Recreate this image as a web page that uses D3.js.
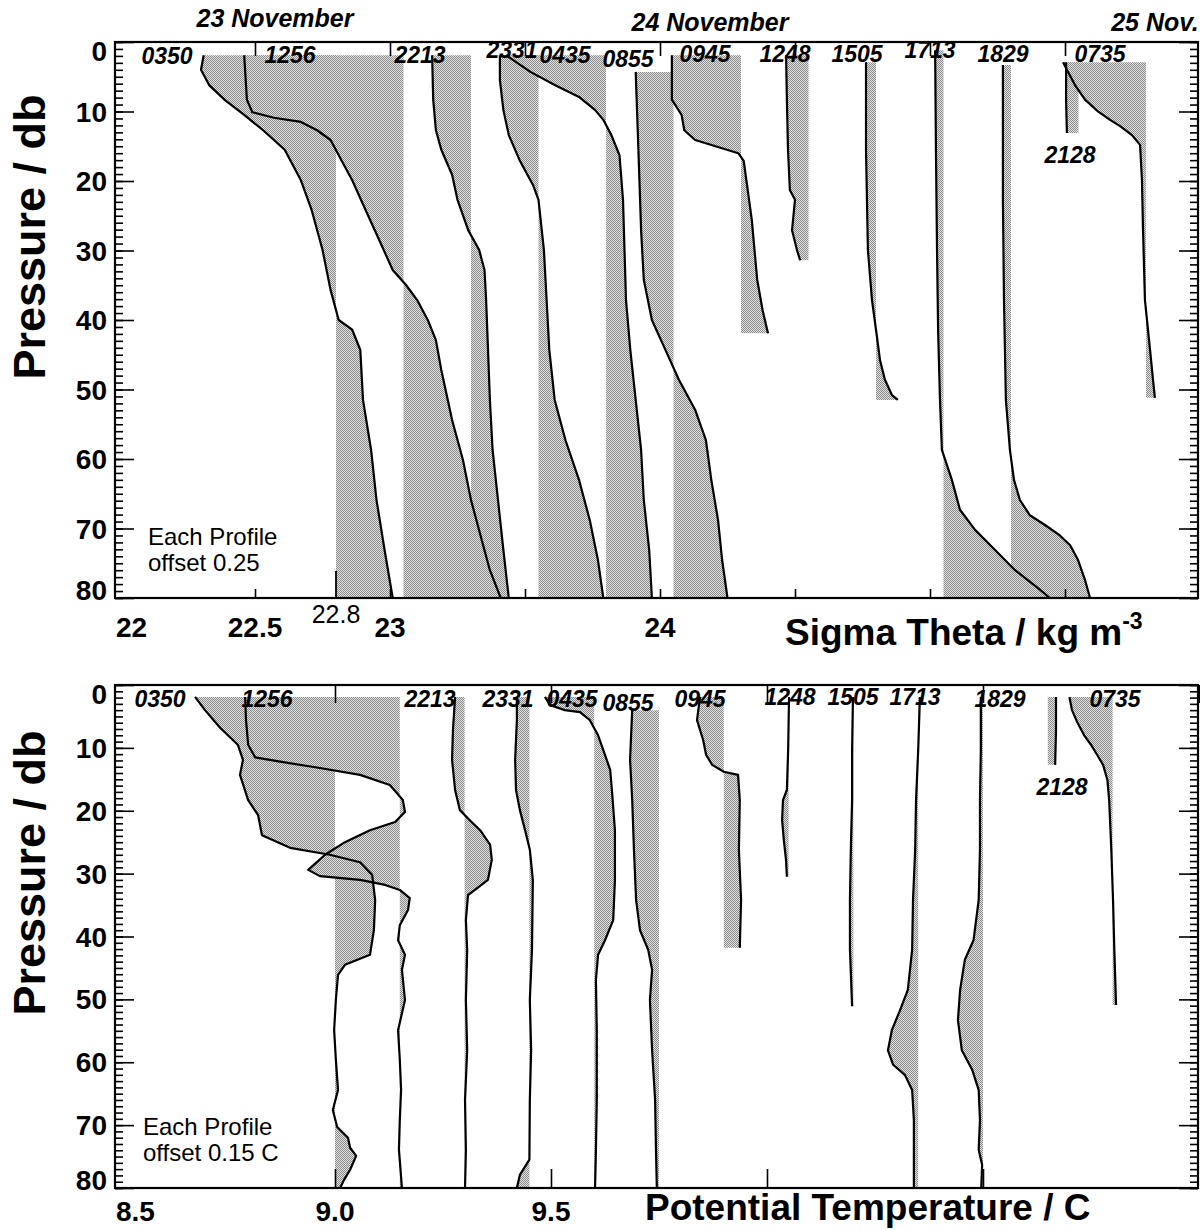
<!DOCTYPE html>
<html>
<head>
<meta charset="utf-8">
<script src="https://cdn.jsdelivr.net/npm/d3@7"></script>
<style>
body { margin: 0; background: #fff; }
text { font-family: "Liberation Sans", Arial, Helvetica, sans-serif; }
</style>
</head>
<body>
<div id="chart-area"></div>
<script>
var width = 1200,
	height = 1230;

// cast times, in the order of the offsets
var castTimes = ["0350", "1256", "2213", "2331", "0435", "0855", "0945", "1248", "1505", "1713", "1829", "2128", "0735"];

var sigmaBase = 22.8, sigmaStep = 0.25;
var thetaBase = 9.0, thetaStep = 0.15;

var pressureTicks = [0, 10, 20, 30, 40, 50, 60, 70, 80];
var sigmaTickLabels = [22, 22.5, 23, 24];
var thetaTickLabels = [8.5, 9.0, 9.5];
var dayLabels = ["23 November", "24 November", "25 Nov."];

// [pressure db, sigma theta] for each cast (before the offset)
var sigmaCasts = [
	[[1.9,22.31],[4,22.30],[6.2,22.33],[8.4,22.39],[10.5,22.46],[12.7,22.53],[15.5,22.61],[19.9,22.67],[24.2,22.71],[29.9,22.75],[35.7,22.78],[40,22.81],[41.4,22.86],[44.3,22.89],[51.5,22.90],[58.7,22.93],[65.9,22.95],[73.1,22.98],[80,23.01]],
	[[1.9,22.21],[8.3,22.22],[10.1,22.24],[10.9,22.32],[11.5,22.42],[12.7,22.48],[14.1,22.53],[17,22.57],[19.9,22.61],[24.2,22.66],[28.5,22.71],[32.8,22.76],[35,22.81],[37.1,22.85],[40,22.89],[42.9,22.92],[47.2,22.94],[54.4,22.98],[60.1,23.02],[65.9,23.05],[71.7,23.09],[76,23.12],[80,23.16]],
	[[1.9,22.656],[8.3,22.66],[12.7,22.67],[15.5,22.69],[19.1,22.73],[22.7,22.75],[27.1,22.79],[29.9,22.83],[32.8,22.85],[37.1,22.856],[44.3,22.863],[51.5,22.87],[58.7,22.88],[65.9,22.90],[73.1,22.92],[80,22.94]],
	[[1.9,22.657],[5.5,22.657],[9.8,22.67],[13.4,22.69],[17,22.73],[20.6,22.78],[22.7,22.80],[29.9,22.82],[37.1,22.83],[44.3,22.84],[51.5,22.86],[57.3,22.90],[63,22.95],[68.8,22.99],[74.5,23.02],[80,23.04]],
	[[1.9,22.43],[4.3,22.52],[6.2,22.61],[7.9,22.70],[9.8,22.76],[11.2,22.79],[13.4,22.82],[16.3,22.85],[22.7,22.863],[37.1,22.874],[44.3,22.89],[51.5,22.91],[58.7,22.93],[65.9,22.94],[73.1,22.96],[80,22.97]],
	[[4.3,22.66],[15.5,22.67],[27.1,22.68],[34.2,22.69],[40,22.72],[44.3,22.77],[48.6,22.82],[52.9,22.88],[57.3,22.92],[63,22.94],[68.8,22.965],[74.5,22.98],[80,23.0]],
	[[1.9,22.544],[8.3,22.544],[10.5,22.58],[12.7,22.59],[14.1,22.63],[16,22.79],[17.1,22.81],[19.9,22.82],[25.6,22.84],[29.9,22.85],[34.2,22.86],[38.6,22.88],[41.9,22.90]],
	[[1.9,22.717],[8.3,22.72],[15.5,22.724],[21.3,22.731],[22.7,22.75],[27.1,22.739],[29.9,22.757],[31.4,22.769]],
	[[2.9,22.763],[15.5,22.763],[29.9,22.77],[37.1,22.785],[41.4,22.80],[45.8,22.815],[48.6,22.833],[50.8,22.859],[51.5,22.881]],
	[[1.2,22.769],[15.5,22.772],[29.9,22.776],[41.4,22.78],[51.5,22.787],[58.7,22.794],[63,22.831],[67.3,22.861],[70.2,22.917],[73.1,22.991],[76,23.065],[78.8,23.157],[80,23.194]],
	[[3.3,22.77],[22.7,22.77],[37.1,22.774],[51.5,22.781],[58.7,22.796],[63,22.811],[65.9,22.833],[68.1,22.87],[69.5,22.926],[71,22.981],[72.4,23.019],[74.5,23.048],[77.4,23.074],[80,23.093]],
	[[2.9,22.754],[8.3,22.754],[13.1,22.757]],
	[[2.9,22.493],[4,22.507],[6.2,22.537],[8.3,22.574],[9.9,22.619],[11.2,22.667],[12.1,22.704],[13.4,22.748],[14.8,22.778],[19.9,22.785],[27.1,22.789],[37.1,22.796],[44.3,22.815],[48.6,22.826],[51.2,22.833]]
];

// [pressure db, potential temperature C] for each cast (before the offset)
var thetaCasts = [
	[[1.9,8.676],[4,8.699],[6.8,8.734],[9.5,8.775],[11.9,8.787],[14.3,8.78],[18.3,8.799],[20.7,8.822],[23.9,8.831],[25.9,8.896],[27,8.988],[28.2,9.058],[30.2,9.086],[34.2,9.093],[39,9.09],[42.9,9.081],[44.5,9.023],[46.1,9.007],[50.1,9.002],[54.9,8.998],[59.6,9.002],[64.4,9.007],[67.6,8.995],[70.3,9.005],[72,9.03],[73.6,9.035],[74.9,9.049],[77.1,9.035],[78.7,9.021],[80,9.012]],
	[[1.9,8.642],[5.6,8.644],[9.5,8.649],[11.5,8.665],[12.2,8.723],[13.2,8.815],[14.3,8.908],[15.9,8.977],[18.3,9.007],[20.2,9.012],[21.8,8.989],[23.1,8.931],[25,8.873],[27,8.827],[29.4,8.788],[30.4,8.815],[31,8.908],[31.8,8.966],[32.6,9.0],[33.9,9.023],[35.8,9.019],[38.2,9.0],[40.6,8.996],[42.9,9.012],[45.3,9.005],[50.1,9.012],[54.9,8.996],[59.6,9.0],[64.4,9.003],[69.2,9.0],[73.9,8.998],[80,9.005]],
	[[1.9,8.978],[7.2,8.973],[11.9,8.971],[16.7,8.978],[19.9,8.989],[21.5,9.012],[23.1,9.036],[25.4,9.059],[27.8,9.063],[31,9.054],[32.6,9.024],[33.4,9.008],[37.4,9.003],[42.1,9.006],[50.1,9.003],[58.1,9.006],[66,9.001],[74,9.003],[80,9.001]],
	[[1.9,8.971],[5.6,8.971],[11.9,8.967],[16.7,8.969],[19.9,8.978],[23.1,8.99],[26.2,9.001],[31,9.008],[42.1,9.006],[50.1,9.001],[58.1,9.004],[66,9.001],[75.5,9.0],[77.9,8.978],[80,8.971]],
	[[1.9,8.886],[3.2,8.898],[4,8.932],[4.3,8.967],[5.6,8.99],[8,9.009],[11.1,9.025],[13.5,9.037],[16.7,9.041],[23.1,9.048],[31,9.048],[37.4,9.044],[40.6,9.025],[42.9,9.009],[46.9,9.004],[54.9,9.006],[66,9.006],[74,9.004],[80,9.002]],
	[[4,8.938],[11.9,8.933],[18.3,8.938],[26.2,8.942],[34.2,8.947],[39,8.956],[42.1,8.975],[45.3,8.984],[50.1,8.979],[58.1,8.984],[66,8.991],[74,8.993],[80,8.995]],
	[[1.9,8.945],[5.6,8.938],[8.7,8.952],[11.1,8.959],[12.7,8.973],[13.8,9.0],[14.3,9.033],[18.3,9.037],[26.2,9.035],[34.2,9.04],[41.8,9.037]],
	[[1.9,9.001],[10.3,8.999],[16.7,8.996],[18.3,8.987],[21.5,8.985],[24.7,8.989],[27.8,8.994],[30.5,8.996]],
	[[1.9,8.999],[10.3,8.997],[18.3,8.997],[26.2,8.994],[34.2,8.992],[42.1,8.992],[51.1,8.997]],
	[[1.9,9.004],[10.3,9.0],[18.3,8.995],[26.2,8.993],[34.2,8.988],[42.1,8.986],[48.5,8.976],[51.7,8.958],[54.9,8.939],[58.1,8.93],[60.4,8.942],[62,8.969],[64.4,8.986],[69.2,8.99],[74,8.99],[80,8.99]],
	[[1.9,8.995],[10.3,8.995],[18.3,8.993],[26.2,8.993],[34.2,8.99],[40.6,8.978],[43.7,8.958],[48.5,8.947],[53.3,8.942],[58.1,8.951],[61.2,8.975],[64.4,8.99],[69.2,8.993],[73.9,8.99],[76.3,8.998],[80,8.996]],
	[[1.9,9.019],[7.2,9.019],[12.7,9.017]],
	[[1.9,8.9],[4,8.906],[5.9,8.918],[8,8.934],[9.5,8.95],[11.1,8.964],[12.7,8.978],[15.1,8.988],[18.3,8.992],[26.2,8.997],[34.2,9.001],[42.1,9.004],[50.9,9.008]]
];

var svg = d3.select("#chart-area").append("svg")
	.attr("width", width).attr("height", height);

// dithered grey like the scanned original
var pat = svg.append("defs").append("pattern")
	.attr("id", "dither").attr("width", 2).attr("height", 2)
	.attr("patternUnits", "userSpaceOnUse");
pat.append("rect").attr("width", 2).attr("height", 2).attr("fill", "#e2e2e2");
pat.append("rect").attr("width", 1).attr("height", 1).attr("fill", "#8a8a8a");
pat.append("rect").attr("x", 1).attr("y", 1).attr("width", 1).attr("height", 1).attr("fill", "#8a8a8a");

var panels = [
	{
		id: "sig", top: 42, bottom: 598, left: 115, right: 1198,
		xDomain: [22, 26], xRange: [120, 1200],
		casts: sigmaCasts, base: sigmaBase, step: sigmaStep,
		topTicks: [22.5, 23, 23.5, 24, 24.5, 25, 25.5], topTickLen: 14,
		botTicks: [22.5, 23, 23.5, 24, 24.5, 25, 25.5], botTickLen: 9,
		tickLabels: sigmaTickLabels, tickFmt: function(d) { return d; },
		tickBaseline: 637,
		labelPos: [[167,64],[290,63],[420,63],[512,58],[565,63],[628,67],[705,62],[785,62],[857,62],[930,58],[1003,62],[1070,163],[1100,62]],
		note: ["Each Profile", "offset 0.25"], noteX: 148, noteY: 545,
		titleY: 237
	},
	{
		id: "theta", top: 685, bottom: 1188, left: 115, right: 1198,
		xDomain: [8.5, 11], xRange: [119, 1199],
		casts: thetaCasts, base: thetaBase, step: thetaStep,
		topTicks: [9.0, 9.5, 10.0, 10.5, 11.0], topTickLen: 18,
		botTicks: [9.0, 9.5, 10.0, 10.5], botTickLen: 19,
		tickLabels: thetaTickLabels, tickFmt: d3.format(".1f"),
		tickBaseline: 1221,
		labelPos: [[160,707],[267,707],[430,707],[508,707],[572,707],[628,711],[700,707],[790,705],[853,705],[915,705],[1000,707],[1062,795],[1115,707]],
		note: ["Each Profile", "offset 0.15 C"], noteX: 143, noteY: 1135,
		titleY: 873
	}
];

panels.forEach(function(P) {
	var x = d3.scaleLinear().domain(P.xDomain).range(P.xRange);
	var y = d3.scaleLinear().domain([0, 80]).range([P.top, P.bottom]);

	svg.append("clipPath").attr("id", "clip-" + P.id)
		.append("rect")
		.attr("x", P.left).attr("y", P.top)
		.attr("width", P.right - P.left).attr("height", P.bottom - P.top);

	var g = svg.append("g").attr("clip-path", "url(#clip-" + P.id + ")");

	// shaded departures from each cast's reference value
	P.casts.forEach(function(cast, k) {
		var ref = x(P.base + k * P.step);
		var area = d3.area()
			.y(function(d) { return y(d[0]); })
			.x0(ref)
			.x1(function(d) { return x(d[1] + k * P.step); });
		g.append("path").datum(cast)
			.attr("d", area)
			.attr("fill", "url(#dither)")
			.attr("stroke", "none");
	});

	P.casts.forEach(function(cast, k) {
		var line = d3.line()
			.x(function(d) { return x(d[1] + k * P.step); })
			.y(function(d) { return y(d[0]); });
		g.append("path").datum(cast)
			.attr("d", line)
			.attr("fill", "none")
			.attr("stroke", "#000")
			.attr("stroke-width", 2.2)
			.attr("stroke-linejoin", "round");
	});

	// axes ticks (all pointing inside)
	var minor = d3.range(0, 81, 1);
	function yTicks(axis, xPos, size, vals) {
		var a = svg.append("g")
			.attr("transform", "translate(" + xPos + ",0)")
			.call(axis(y).tickValues(vals).tickSize(size).tickFormat(""));
		a.select(".domain").remove();
		a.selectAll("line").attr("stroke-width", 1.6);
	}
	yTicks(d3.axisRight, P.left, 8, minor);
	yTicks(d3.axisRight, P.left, 19, pressureTicks);
	yTicks(d3.axisLeft, P.right, 8, minor);
	yTicks(d3.axisLeft, P.right, 19, pressureTicks);

	var tt = svg.append("g")
		.attr("transform", "translate(0," + P.top + ")")
		.call(d3.axisBottom(x).tickValues(P.topTicks).tickSize(P.topTickLen).tickFormat(""));
	tt.select(".domain").remove();
	tt.selectAll("line").attr("stroke-width", 1.6);

	var bt = svg.append("g")
		.attr("transform", "translate(0," + P.bottom + ")")
		.call(d3.axisTop(x).tickValues(P.botTicks).tickSize(P.botTickLen).tickFormat(""));
	bt.select(".domain").remove();
	bt.selectAll("line").attr("stroke-width", 1.6);

	// frame
	svg.append("rect")
		.attr("x", P.left).attr("y", P.top)
		.attr("width", P.right - P.left).attr("height", P.bottom - P.top)
		.attr("fill", "none").attr("stroke", "#000").attr("stroke-width", 2.2);

	// cast time labels
	castTimes.forEach(function(t, k) {
		svg.append("text")
			.attr("x", P.labelPos[k][0]).attr("y", P.labelPos[k][1])
			.attr("text-anchor", "middle")
			.attr("font-size", 23).attr("font-weight", "bold").attr("font-style", "italic")
			.text(t);
	});

	// pressure labels
	pressureTicks.forEach(function(p) {
		var shift = p === 0 ? 19 : (p === 80 ? 2 : 10);
		svg.append("text")
			.attr("x", 107).attr("y", y(p) + shift)
			.attr("text-anchor", "end")
			.attr("font-size", 28).attr("font-weight", "bold")
			.text(p);
	});

	// x labels, the first one sits against the frame
	P.tickLabels.forEach(function(v, i) {
		svg.append("text")
			.attr("x", i === 0 ? P.left + 1 : x(v))
			.attr("y", P.tickBaseline)
			.attr("text-anchor", i === 0 ? "start" : "middle")
			.attr("font-size", 28).attr("font-weight", "bold")
			.text(P.tickFmt(v));
	});

	svg.append("text")
		.attr("x", 45).attr("y", P.titleY)
		.attr("transform", "rotate(-90,45," + P.titleY + ")")
		.attr("text-anchor", "middle")
		.attr("font-size", 45).attr("font-weight", "bold")
		.text("Pressure / db");

	svg.append("text").attr("x", P.noteX).attr("y", P.noteY)
		.attr("font-size", 24).text(P.note[0]);
	svg.append("text").attr("x", P.noteX).attr("y", P.noteY + 26)
		.attr("font-size", 24).text(P.note[1]);

	P.x = x;
});

// extra tick and label for the first reference value
var xs = panels[0].x;
svg.append("line")
	.attr("x1", xs(sigmaBase)).attr("x2", xs(sigmaBase))
	.attr("y1", 598).attr("y2", 571)
	.attr("stroke", "#000").attr("stroke-width", 1.8);
svg.append("text")
	.attr("x", xs(sigmaBase)).attr("y", 623)
	.attr("text-anchor", "middle").attr("font-size", 25)
	.text(sigmaBase);

var sigTitle = svg.append("text")
	.attr("x", 785).attr("y", 645)
	.attr("font-size", 37).attr("font-weight", "bold")
	.text("Sigma Theta / kg m");
sigTitle.append("tspan").attr("dy", -16).attr("font-size", 23).text("-3");

svg.append("text")
	.attr("x", 645).attr("y", 1220)
	.attr("font-size", 37).attr("font-weight", "bold")
	.text("Potential Temperature / C");

// day labels along the top
var dayX = [275, 710, 1155],
	dayY = [27, 31, 31];
dayLabels.forEach(function(d, i) {
	svg.append("text")
		.attr("x", dayX[i]).attr("y", dayY[i])
		.attr("text-anchor", "middle")
		.attr("font-size", 25).attr("font-weight", "bold").attr("font-style", "italic")
		.text(d);
});
</script>
</body>
</html>
